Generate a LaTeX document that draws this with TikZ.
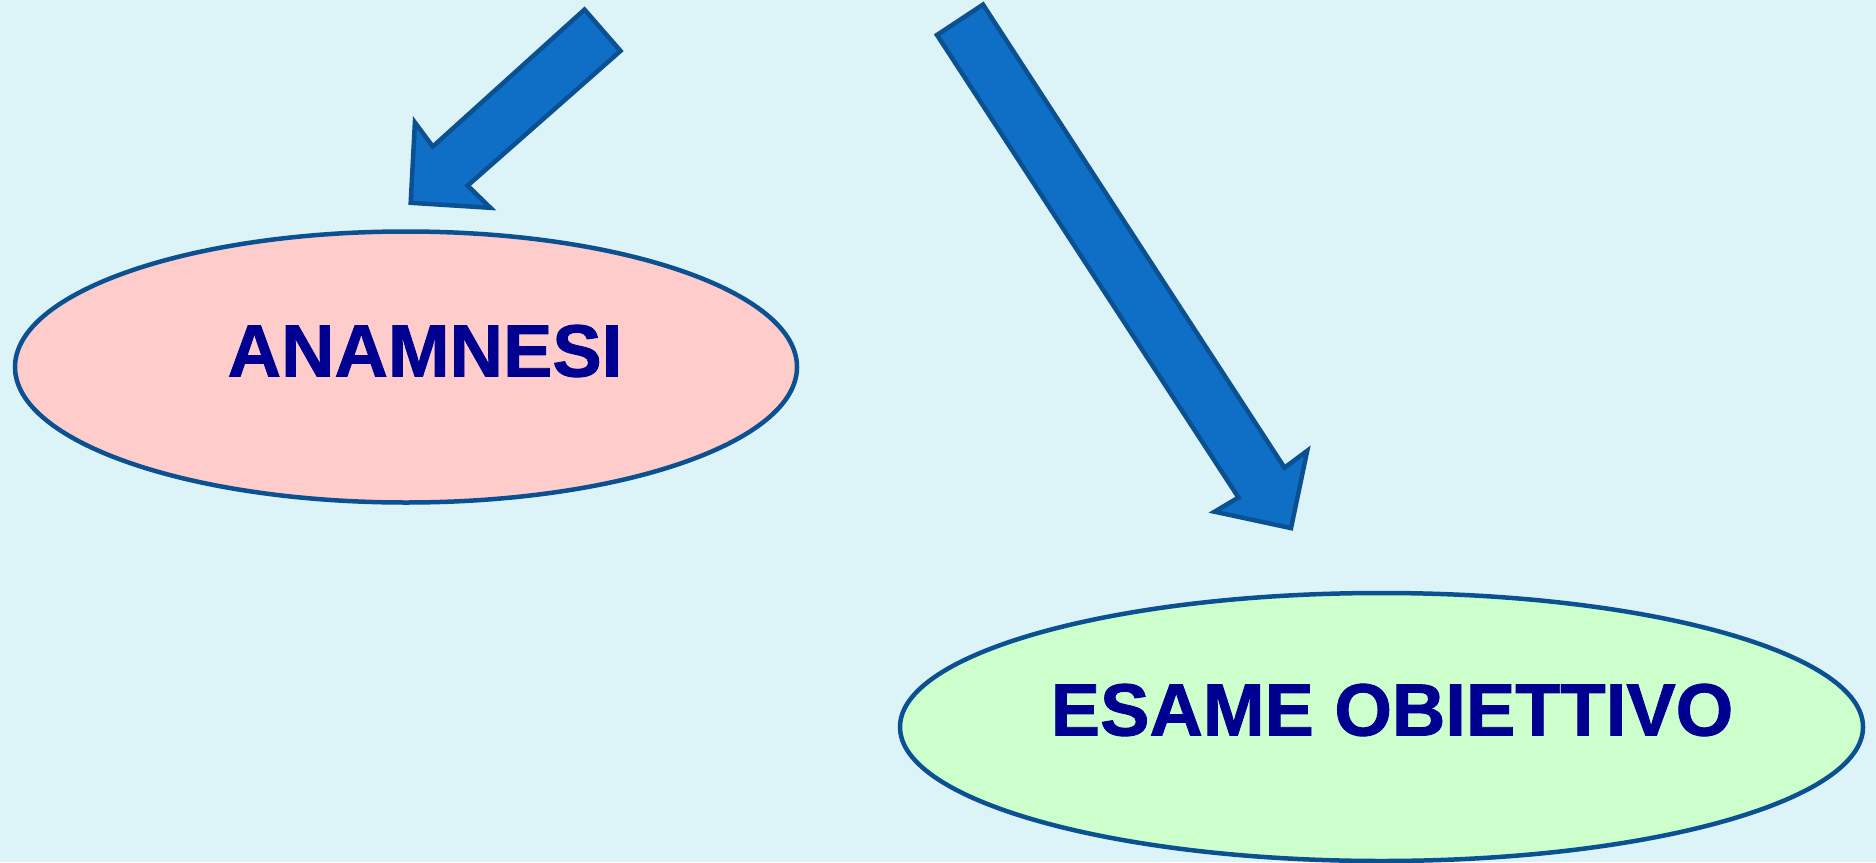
\documentclass[tikz,border=0pt]{standalone}
\usepackage{fontspec}
\setmainfont{Liberation Sans}
\newfontfamily\labelfont[FakeBold=1.2]{Liberation Sans Bold}
\usetikzlibrary{shapes.geometric}
\definecolor{bgc}{RGB}{220,244,248}
\definecolor{arrowfill}{RGB}{15,111,198}
\definecolor{edgeblue}{RGB}{11,80,145}
\definecolor{pinkfill}{RGB}{255,204,204}
\definecolor{greenfill}{RGB}{204,255,204}
\definecolor{navytext}{RGB}{0,0,144}
\tikzset{
  oval/.style={ellipse, draw=edgeblue, line width=4.5pt, inner sep=0pt},
  blockarrow/.style={fill=arrowfill, draw=edgeblue, line width=4.5pt, line join=miter},
  label text/.style={text=navytext, font=\labelfont\fontsize{74}{78}\selectfont, inner sep=0pt, anchor=base}
}
\begin{document}
\begin{tikzpicture}[x=1pt,y=-1pt]
\fill[bgc] (0,0) rectangle (1876,862);
\useasboundingbox (0,0) rectangle (1876,862);
% ellipses
\node[oval, fill=pinkfill, minimum width=782pt, minimum height=271pt] (e1) at (406,367) {};
\node[oval, fill=greenfill, minimum width=963pt, minimum height=268pt] (e2) at (1381.5,727) {};
\node[label text] (t1) at (425,376.5) {ANAMNESI};
\node[label text] (t2) at (1392,735.5) {ESAME OBIETTIVO};
% block arrows
\draw[blockarrow] (584.5,9.6) -- (620.5,50.9) -- (467.6,185.6) -- (490.4,207.8) -- (410.7,202.8) -- (414.9,122.5) -- (432.8,146.6) -- cycle;
\draw[blockarrow] (983,4.6) -- (937,35) -- (1238.5,497.5) -- (1214.6,511.7) -- (1291,528.1) -- (1307.2,450.8) -- (1284.5,467.7) -- cycle;
\end{tikzpicture}
\end{document}
